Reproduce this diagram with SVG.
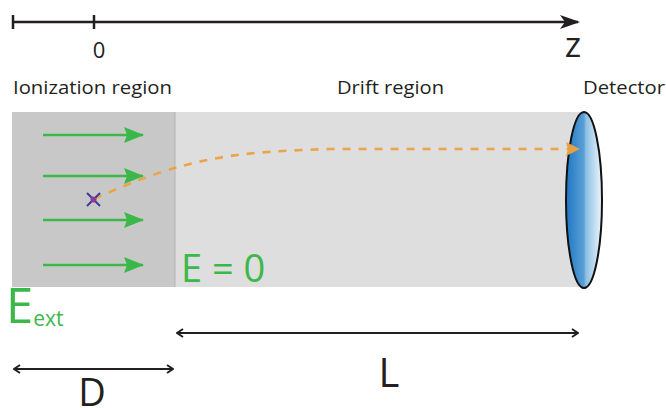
<svg xmlns="http://www.w3.org/2000/svg" width="666" height="408" viewBox="0 0 666 408">
  <style>
    .lbl { font-family: "Open Sans", "Noto Sans", sans-serif; fill: #231f20; }
    .grn { font-family: "Open Sans", "Noto Sans", sans-serif; fill: #3cb84a; }
    .axis { stroke: #231f20; stroke-width: 2.5; fill: none; }
    .field { stroke: #3cb84a; stroke-width: 2.5; fill: none; }
    .dim { stroke: #231f20; stroke-width: 2; fill: none; }
  </style>
  <defs>
    <marker id="axhead" viewBox="0 0 20 14" refX="18" refY="7" markerWidth="20" markerHeight="14" markerUnits="userSpaceOnUse" orient="auto">
      <path d="M0,0 L20,7 L0,14 L5,7 Z" fill="#231f20"/>
    </marker>
    <marker id="fhead" viewBox="0 0 20 16" refX="19" refY="8" markerWidth="20" markerHeight="16" markerUnits="userSpaceOnUse" orient="auto">
      <path d="M0,0 L20,8 L0,16 L3,8 Z" fill="#3cb84a"/>
    </marker>
    <marker id="ohead" viewBox="0 0 14 14" refX="13" refY="7" markerWidth="14" markerHeight="14" markerUnits="userSpaceOnUse" orient="auto">
      <path d="M0,0 L14,7 L0,14 L2,7 Z" fill="#e8a040"/>
    </marker>
    <marker id="dimend" viewBox="0 0 8 10" refX="7" refY="5" markerWidth="8" markerHeight="10" markerUnits="userSpaceOnUse" orient="auto-start-reverse">
      <path d="M1,1 L7,5 L1,9" fill="none" stroke="#231f20" stroke-width="2"/>
    </marker>
    <linearGradient id="detgrad" x1="0" y1="0" x2="1" y2="0">
      <stop offset="0" stop-color="#1f78c4"/>
      <stop offset="0.5" stop-color="#5a9fd6"/>
      <stop offset="0.55" stop-color="#8cbfe4"/>
      <stop offset="1" stop-color="#eef6fb"/>
    </linearGradient>
  </defs>

  <!-- z axis -->
  <g id="axis">
    <line class="axis" x1="13" y1="22" x2="578" y2="22" marker-end="url(#axhead)"/>
    <line class="axis" x1="13" y1="15" x2="13" y2="29"/>
    <line class="axis" x1="94" y1="15" x2="94" y2="29"/>
    <text class="lbl" x="99" y="58" font-size="22" text-anchor="middle">0</text>
    <text class="lbl" x="573" y="57" font-size="35" text-anchor="middle">z</text>
  </g>

  <!-- region labels -->
  <text class="lbl" x="13" y="94" font-size="19" textLength="159" lengthAdjust="spacingAndGlyphs">Ionization region</text>
  <text class="lbl" x="337" y="94" font-size="19" textLength="107" lengthAdjust="spacingAndGlyphs">Drift region</text>
  <text class="lbl" x="583" y="94" font-size="19" textLength="82" lengthAdjust="spacingAndGlyphs">Detector</text>

  <!-- ionization region -->
  <g id="ionization">
    <rect x="12" y="112" width="163" height="175" fill="#c8c8c8"/>
  </g>

  <!-- drift region -->
  <g id="drift">
    <rect x="175" y="112" width="405" height="175" fill="#dedede"/>
    <line x1="175" y1="112" x2="175" y2="287" stroke="#b4b4b4" stroke-width="1"/>
  </g>

  <!-- external field arrows -->
  <g id="field">
    <line class="field" x1="43" y1="135" x2="143" y2="135" marker-end="url(#fhead)"/>
    <line class="field" x1="43" y1="176" x2="143" y2="176" marker-end="url(#fhead)"/>
    <line class="field" x1="43" y1="220" x2="143" y2="220" marker-end="url(#fhead)"/>
    <line class="field" x1="43" y1="265" x2="143" y2="265" marker-end="url(#fhead)"/>
  </g>

  <!-- detector -->
  <g id="detector">
    <ellipse cx="584" cy="200" rx="18" ry="88" fill="url(#detgrad)" stroke="#111" stroke-width="2"/>
  </g>

  <!-- ion trajectory -->
  <g id="connectors">
    <path d="M94,199 C190,155 240,152 330,149 L579,149" fill="none" stroke="#eba44a" stroke-width="2.6" stroke-dasharray="8,8" marker-end="url(#ohead)"/>
  </g>

  <!-- ionization point -->
  <g id="ion">
    <line x1="87" y1="193" x2="100" y2="206" stroke="#3a3a9a" stroke-width="2"/>
    <line x1="100" y1="193" x2="87" y2="206" stroke="#3a3a9a" stroke-width="2"/>
    <circle cx="93.5" cy="199.5" r="3" fill="#8a3a9a"/>
  </g>

  <!-- field labels -->
  <text class="grn" x="181" y="282" font-size="38">E = 0</text>
  <text class="grn" x="6" y="323" font-size="49">E<tspan font-size="21" dy="3">ext</tspan></text>

  <!-- dimensions -->
  <g id="dimensions">
    <line class="dim" x1="177" y1="333" x2="578" y2="333" marker-start="url(#dimend)" marker-end="url(#dimend)"/>
    <line class="dim" x1="14" y1="369" x2="173" y2="369" marker-start="url(#dimend)" marker-end="url(#dimend)"/>
    <text class="lbl" x="389" y="387" font-size="40" text-anchor="middle">L</text>
    <text class="lbl" x="92" y="406" font-size="38" text-anchor="middle">D</text>
  </g>
</svg>
